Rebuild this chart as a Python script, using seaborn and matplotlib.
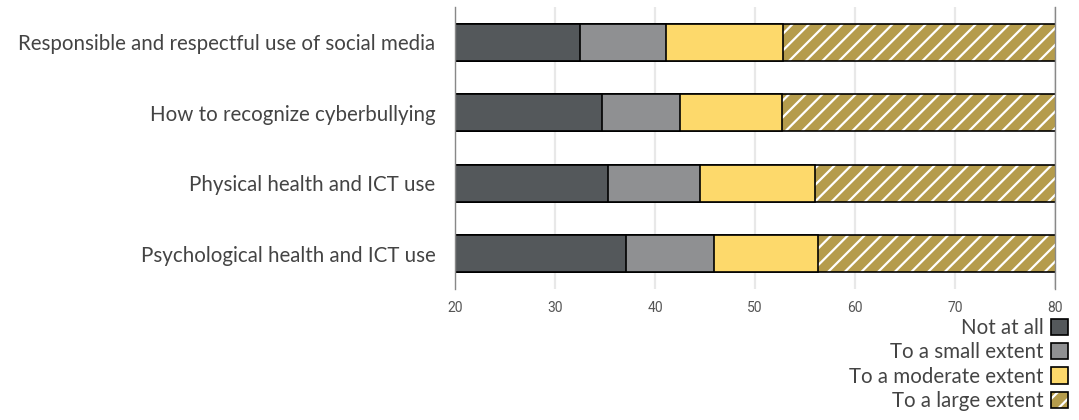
import numpy as np
import pandas as pd
import matplotlib
matplotlib.use('Agg')
import matplotlib.pyplot as plt
from matplotlib.patches import Patch
import seaborn as sns

topics = ['Responsible and respectful use of social media',
          'How to recognize cyberbullying',
          'Physical health and ICT use',
          'Psychological health and ICT use']
levels = ['Not at all', 'To a small extent', 'To a moderate extent', 'To a large extent']

not_at_all = [32.5, 34.7, 35.3, 37.1]
small_extent = [8.6, 7.8, 9.2, 8.8]
moderate_extent = [11.7, 10.2, 11.5, 10.4]
large_extent = [47.2, 47.3, 44.0, 43.7]

colors = ['#54585b', '#8f9092', '#fdd96b', '#b59c4c']
xticks = [20, 30, 40, 50, 60, 70, 80]

sns.set_theme(style='white')
plt.rcParams['font.family'] = ['Lato', 'DejaVu Sans']
plt.rcParams['hatch.linewidth'] = 1.6

df = pd.DataFrame({'topic': topics, 'Not at all': not_at_all,
                   'To a small extent': small_extent,
                   'To a moderate extent': moderate_extent,
                   'To a large extent': large_extent})
cum = df[levels].cumsum(axis=1)
cum['topic'] = df['topic']

fig = plt.figure(figsize=(10.79, 4.2), dpi=100)
ax = fig.add_axes([455 / 1079, 1 - 289 / 420, 600 / 1079, 282 / 420])

# stacked bars: draw cumulative totals, widest first
for i in range(3, -1, -1):
    sns.barplot(data=cum, x=levels[i], y='topic', color=colors[i], saturation=1,
                width=0.53, edgecolor='black', linewidth=1.2,
                hatch='//' if i == 3 else None, ax=ax)
    if i == 3:
        for p in ax.patches:
            p._hatch_color = (1, 1, 1, 1)

ax.set_xlim(20, 80)
ax.set_ylim(3.5, -0.5)
ax.set_xticks(xticks)
ax.set_xlabel('')
ax.set_ylabel('')
ax.grid(axis='x', color='#e8e8e8', linewidth=1.6)
ax.set_axisbelow(True)
for s in ['top', 'bottom']:
    ax.spines[s].set_visible(False)
for s in ['left', 'right']:
    ax.spines[s].set_color('#888888')
    ax.spines[s].set_linewidth(1.0)
ax.tick_params(axis='x', length=0, pad=9, labelsize=10, labelcolor='#555555')
ax.tick_params(axis='y', length=0, pad=14, labelsize=14.8, labelcolor='#444444')
for t in ax.get_xticklabels():
    t.set_family(['Roboto', 'DejaVu Sans'])

handles = [Patch(facecolor=c, edgecolor='black', linewidth=1.2,
                 hatch='//' if k == 3 else None) for k, c in enumerate(colors)]
leg = fig.legend(handles, levels, loc='upper right', bbox_to_anchor=(1068 / 1079, 1 - 318 / 420),
                 frameon=False, markerfirst=False, borderpad=0, borderaxespad=0,
                 handlelength=0.83, handleheight=0.83, handletextpad=0.35, labelspacing=0.21,
                 prop={'size': 14.8})
for t in leg.get_texts():
    t.set_color('#444444')
leg.get_patches()[3]._hatch_color = (1, 1, 1, 1)

fig.savefig('out.png', dpi=100)
